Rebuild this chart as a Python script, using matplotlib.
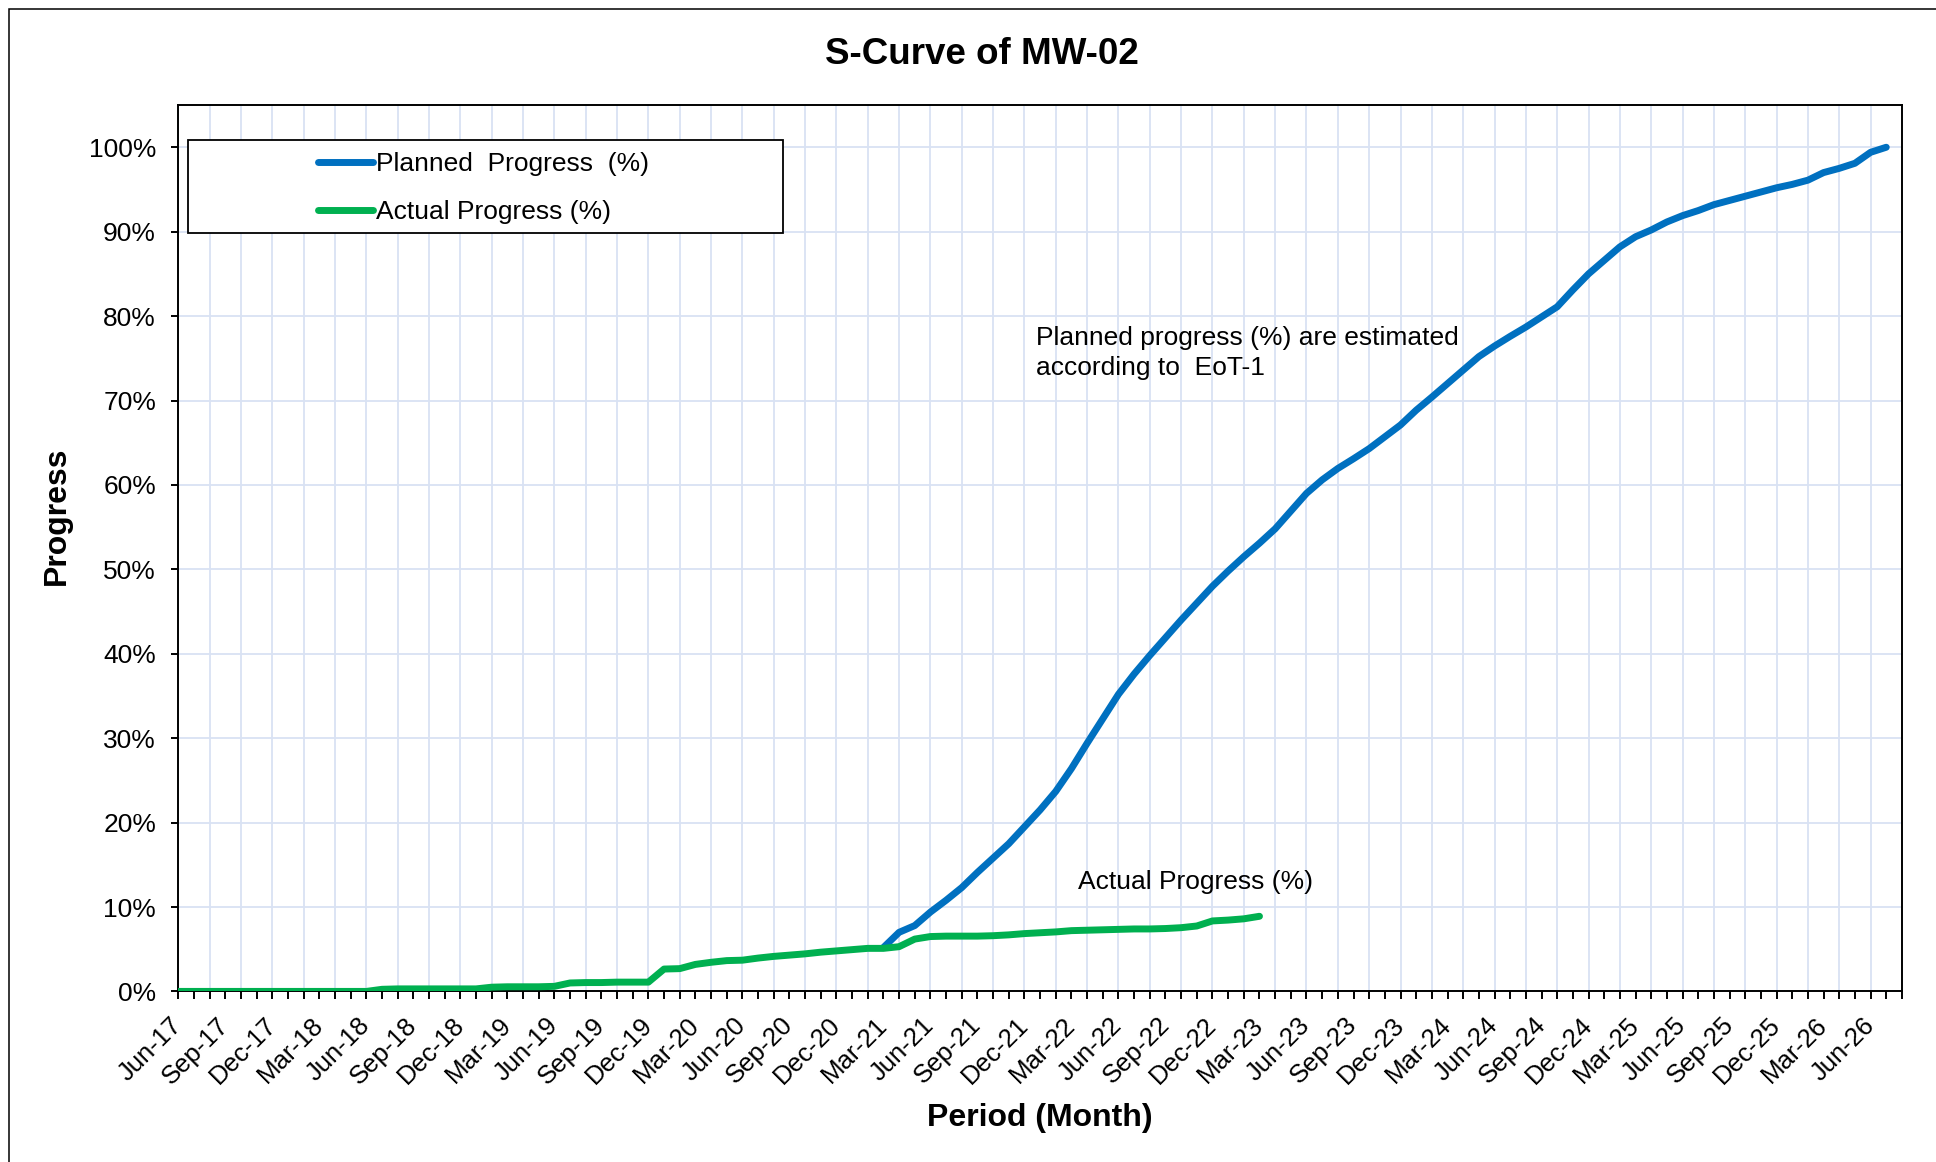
import numpy as np
import pandas as pd
import matplotlib
matplotlib.use("Agg")
import matplotlib.pyplot as plt
from matplotlib.patches import Rectangle
from matplotlib.ticker import FuncFormatter

plt.rcParams['font.family'] = ['Liberation Sans', 'DejaVu Sans']

# monthly periods, Jun-17 .. Aug-26
months = pd.date_range('2017-06-01', periods=111, freq='MS').strftime('%b-%y').tolist()

# planned progress (%), starts Mar-21 (index 45) and reaches 100% in Jul-26
planned_start = 45
planned = [5.2, 7.0, 7.8, 9.4, 10.8, 12.3, 14.1, 15.8, 17.5, 19.5,
           21.5, 23.7, 26.4, 29.4, 32.3, 35.2, 37.6, 39.8, 41.9, 44.0,
           46.0, 48.0, 49.8, 51.5, 53.1, 54.8, 56.9, 59.0, 60.6, 61.95,
           63.1, 64.3, 65.7, 67.1, 68.85, 70.4, 72.0, 73.6, 75.2, 76.45,
           77.6, 78.7, 79.9, 81.1, 83.1, 85.0, 86.6, 88.2, 89.4, 90.2,
           91.15, 91.9, 92.5, 93.2, 93.7, 94.2, 94.7, 95.2, 95.6, 96.1,
           97.0, 97.5, 98.1, 99.4, 100.0]

# actual progress (%), Jun-17 .. Mar-23
actual = [0, 0, 0, 0, 0, 0, 0, 0, 0, 0,
          0, 0, 0, 0.25, 0.3, 0.3, 0.3, 0.3, 0.3, 0.3,
          0.5, 0.55, 0.55, 0.55, 0.6, 1.0, 1.05, 1.05, 1.1, 1.1,
          1.1, 2.65, 2.7, 3.2, 3.45, 3.65, 3.7, 3.95, 4.15, 4.3,
          4.45, 4.65, 4.8, 4.95, 5.1, 5.1, 5.3, 6.2, 6.5, 6.55,
          6.55, 6.55, 6.6, 6.7, 6.85, 6.95, 7.05, 7.2, 7.25, 7.3,
          7.35, 7.4, 7.4, 7.45, 7.55, 7.75, 8.35, 8.45, 8.6, 8.9]

blue = '#0070C0'
green = '#00B050'
grid_c = '#D9E2F3'

fig = plt.figure(figsize=(19.36, 11.62), dpi=100)
ax = fig.add_axes([0.0921, 0.1468, 0.8903, 0.7628])

x_plan = np.arange(planned_start, planned_start + len(planned))
x_act = np.arange(len(actual))
ax.plot(x_plan, planned, color=blue, lw=5, solid_capstyle='round',
        solid_joinstyle='round', label='Planned  Progress  (%)', zorder=3)
ax.plot(x_act, actual, color=green, lw=5, solid_capstyle='round',
        solid_joinstyle='round', label='Actual Progress (%)', zorder=3)

ax.set_xlim(0, len(months) - 1)
ax.set_ylim(0, 105)

# grid: horizontal every 10%, vertical every two months
ax.set_yticks(np.arange(0, 101, 10))
ax.yaxis.set_major_formatter(FuncFormatter(lambda v, p: f'{v:.0f}%'))
ax.yaxis.grid(True, color=grid_c, lw=1.3)
ax.vlines(np.arange(0, len(months), 2), 0, 1, transform=ax.get_xaxis_transform(),
          color=grid_c, lw=1.3, zorder=0.5)
ax.set_axisbelow(True)

# month labels every quarter, tick marks every month
lab_idx = np.arange(0, len(months), 3)
ax.set_xticks(lab_idx)
ax.set_xticklabels([months[i] for i in lab_idx], rotation=45, ha='right',
                   va='center', rotation_mode='anchor')
ax.set_xticks(np.arange(len(months)), minor=True)
ax.tick_params(axis='x', which='both', direction='out', length=5.5, width=1.4,
               labelsize=18.5, pad=16)
ax.tick_params(axis='y', direction='out', length=5, width=1.4, labelsize=19, pad=11)

for s in ax.spines.values():
    s.set_color('black')
    s.set_linewidth(1.4)

# legend in its own wide box
ax.add_patch(Rectangle((0.0056, 0.8556), 0.3452, 0.1049, transform=ax.transAxes,
                       facecolor='white', edgecolor='black', lw=1.3, zorder=4))
leg = ax.legend(loc='center left', bbox_to_anchor=(0.0813, 0.906), frameon=False,
                fontsize=19, handlelength=2.05, handletextpad=0.14,
                labelspacing=0.9, borderpad=0, borderaxespad=0)
leg.set_zorder(5)

ax.text(54.73, 75.6, 'Planned progress (%) are estimated\naccording to  EoT-1',
        fontsize=19, ha='left', va='center', linespacing=1.3)
ax.text(57.4, 13.0, 'Actual Progress (%)', fontsize=19, ha='left', va='center')

fig.text(0.5072, 0.9535, 'S-Curve of MW-02', fontsize=26.5, fontweight='bold',
         ha='center', va='center')
fig.text(0.537, 0.0378, 'Period (Month)', fontsize=23, fontweight='bold',
         ha='center', va='center')
fig.text(0.0294, 0.556, 'Progress', fontsize=23, fontweight='bold',
         ha='center', va='center', rotation=90)

# outer chart border
fig.add_artist(Rectangle((0.0045, -0.05), 1.2, 0.0426 + 1.0, transform=fig.transFigure,
                         facecolor='none', edgecolor='black', lw=1.1))

fig.savefig('out.png', dpi=100)
